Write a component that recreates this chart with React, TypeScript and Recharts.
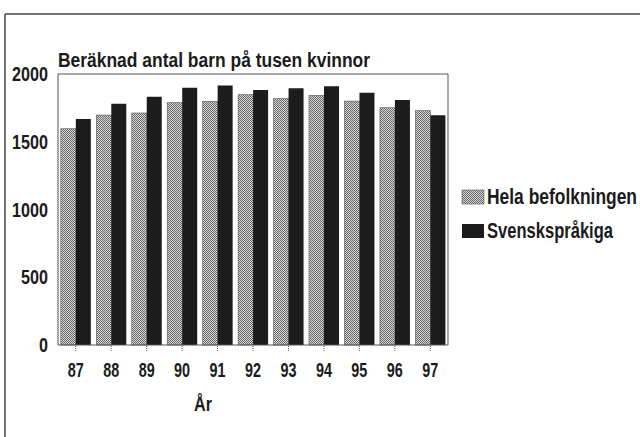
import React from 'react';
import { BarChart, Bar, XAxis, YAxis, Legend } from 'recharts';

const years = ['87', '88', '89', '90', '91', '92', '93', '94', '95', '96', '97'];
const helaBefolkningen = [1596, 1697, 1712, 1788, 1798, 1847, 1818, 1842, 1800, 1751, 1729];
const svenskspraakiga = [1667, 1781, 1833, 1899, 1916, 1882, 1894, 1909, 1862, 1808, 1695];
const yTicks = [0, 500, 1000, 1500, 2000];
const seriesNames = ['Hela befolkningen', 'Svenskspråkiga'];
const titleText = 'Beräknad antal barn på tusen kvinnor';
const xLabel = 'År';

const data = years.map((y, i) => ({ year: y, hela: helaBefolkningen[i], svensk: svenskspraakiga[i] }));

const FONT = "'Liberation Sans', Arial, sans-serif";
const INK = '#1b1b1b';

const PatternDefs = () => (
  <defs>
    <pattern id="stipple" x="0" y="0" width="2" height="2" patternUnits="userSpaceOnUse">
      <rect x="0" y="0" width="2" height="2" fill="#d6d6d6" />
      <rect x="0" y="0" width="1" height="1" fill="#6a6a6a" />
      <rect x="1" y="1" width="1" height="1" fill="#6a6a6a" />
    </pattern>
  </defs>
);

const GrayBar = (props: any) => {
  const { x, y, width, height } = props;
  if (height == null || height <= 0) return null;
  return (
    <g>
      <PatternDefs />
      <rect x={x} y={y} width={width} height={height} fill="url(#stipple)" stroke="#555" strokeWidth={0.6} />
    </g>
  );
};

const LegendContent = () => (
  <svg width={178} height={64} style={{ overflow: 'visible' }}>
    <PatternDefs />
    <rect x={0} y={10} width={22} height={14} fill="url(#stipple)" stroke="#555" strokeWidth={0.6} />
    <text x={25} y={24} fontFamily={FONT} fontWeight="bold" fontSize={22} fill={INK} textLength={150} lengthAdjust="spacingAndGlyphs">{seriesNames[0]}</text>
    <rect x={0} y={44} width={22} height={14} fill="#1c1c1c" />
    <text x={25} y={58} fontFamily={FONT} fontWeight="bold" fontSize={22} fill={INK} textLength={126} lengthAdjust="spacingAndGlyphs">{seriesNames[1]}</text>
  </svg>
);

const XLabelContent = (props: any) => {
  const vb = props.viewBox || {};
  return (
    <text x={(vb.x || 0) + 145} y={411} textAnchor="middle" fontFamily={FONT} fontWeight="bold" fontSize={21} fill={INK} textLength={18} lengthAdjust="spacingAndGlyphs">
      {xLabel}
    </text>
  );
};

const XTick = (props: any) => {
  const { x, y, payload } = props;
  const s = String(payload.value);
  return (
    <text x={x} y={y} dy={14} textAnchor="middle" fontFamily={FONT} fontWeight="bold" fontSize={20} fill={INK} textLength={s.length * 8} lengthAdjust="spacingAndGlyphs">
      {s}
    </text>
  );
};

const YTick = (props: any) => {
  const { x, y, payload } = props;
  const s = String(payload.value);
  return (
    <text x={x} y={y} dy={7} textAnchor="end" fontFamily={FONT} fontWeight="bold" fontSize={20} fill={INK} textLength={s.length * 9} lengthAdjust="spacingAndGlyphs">
      {s}
    </text>
  );
};

export default function App() {
  return (
    <div style={{ position: 'absolute', left: 0, top: 0, width: 640, height: 437, background: '#fff' }}>
      <svg width={640} height={437} style={{ position: 'absolute', left: 0, top: 0 }}>
        <line x1={5} y1={14} x2={640} y2={14} stroke="#444" strokeWidth={1.5} />
        <line x1={5} y1={14} x2={5} y2={437} stroke="#444" strokeWidth={1.5} />
        <text x={58} y={67} fontFamily={FONT} fontWeight="bold" fontSize={20} fill={INK} textLength={312} lengthAdjust="spacingAndGlyphs">{titleText}</text>
      </svg>
      <div style={{ position: 'absolute', left: 0, top: 0 }}>
        <BarChart
          width={640}
          height={437}
          data={data}
          margin={{ top: 73, right: 191, left: 0, bottom: 16 }}
          barCategoryGap="8%"
          barGap={0}
        >
          <XAxis
            dataKey="year"
            height={76}
            axisLine={{ stroke: '#555', strokeWidth: 1 }}
            tickLine={{ stroke: '#555', strokeDasharray: '1 1' }}
            tickSize={6}
            tickMargin={12}
            tick={XTick}
            interval={0}
            label={{ content: XLabelContent }}
          />
          <XAxis xAxisId="top" dataKey="year" orientation="top" height={1} tick={false} tickLine={false} axisLine={{ stroke: '#555', strokeWidth: 1 }} />
          <YAxis
            domain={[0, 2000]}
            ticks={yTicks}
            width={58}
            axisLine={{ stroke: '#555', strokeWidth: 1 }}
            tickLine={false}
            tickSize={0}
            tickMargin={10}
            tick={YTick}
            interval={0}
          />
          <YAxis yAxisId="right" orientation="right" width={1} domain={[0, 2000]} tick={false} tickLine={false} axisLine={{ stroke: '#555', strokeWidth: 1 }} />
          <Legend
            content={LegendContent}
            layout="horizontal"
            verticalAlign="middle"
            align="center"
            wrapperStyle={{ position: 'absolute', left: 462, top: 180, width: 178, height: 64 }}
          />
          <Bar dataKey="hela" name={seriesNames[0]} fill="#a0a0a0" shape={GrayBar} isAnimationActive={false} />
          <Bar dataKey="svensk" name={seriesNames[1]} fill="#1c1c1c" isAnimationActive={false} />
        </BarChart>
      </div>
    </div>
  );
}
